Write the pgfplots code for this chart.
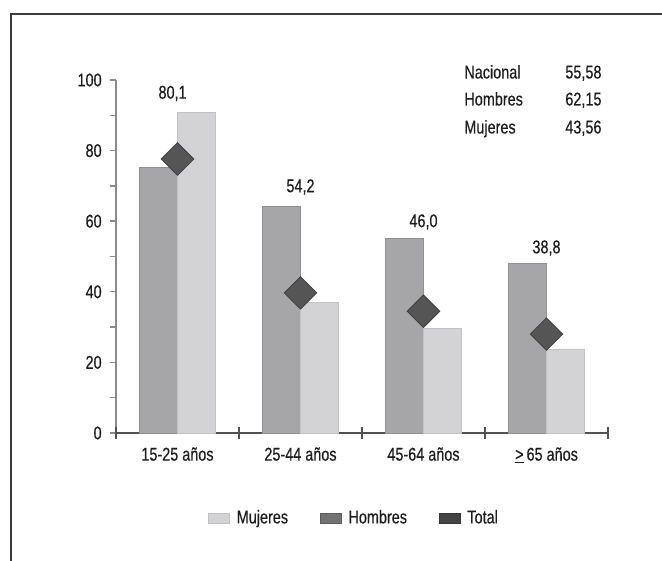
\documentclass[border=0pt]{standalone}
\usepackage{fontspec}
\setmainfont{Liberation Sans}[FakeStretch=0.78, FakeBold=0.4]
\usepackage{pgfplots}
\pgfplotsset{compat=1.18}

\definecolor{hombres}{HTML}{A6A6A8}
\definecolor{hombresedge}{HTML}{8F8F91}
\definecolor{mujeres}{HTML}{D3D3D5}
\definecolor{mujeresedge}{HTML}{C2C2C4}
\definecolor{total}{HTML}{555555}
\definecolor{totaledge}{HTML}{3E3E3E}
\definecolor{txt}{HTML}{1C1C1C}
\definecolor{frame}{HTML}{3A3A3A}
\definecolor{yaxis}{HTML}{8A8A8A}
\definecolor{xaxis}{HTML}{505050}
\definecolor{leghombres}{HTML}{737373}
\definecolor{legtotal}{HTML}{444444}

\newcommand\chartfont{\fontsize{18.5bp}{21bp}\selectfont\color{txt}}

\pgfplotsset{
  patch/.style={legend image code/.code={%
    \draw[#1] (0bp,-5bp) rectangle (21bp,5bp);
    \path (26bp,0bp);}},
}

\begin{document}
\chartfont
\begin{tikzpicture}[font=\chartfont]
\path[use as bounding box] (0,0) rectangle (662bp,561bp);
% outer frame (top and left edges)
\draw[frame, line width=1.6bp] (11bp,0bp) -- (11bp,547bp) -- (662bp,547bp);

\begin{axis}[
  at={(116bp,128bp)}, anchor=south west,
  scale only axis, width=492bp, height=353bp,
  xmin=-0.5, xmax=3.5, ymin=0, ymax=100,
  enlargelimits=false, clip=false,
  axis lines=left,
  x axis line style={draw=xaxis, line width=1.6bp, -},
  y axis line style={draw=yaxis, line width=1.6bp, -},
  ytick={0,20,...,100}, minor ytick={10,30,...,90},
  ytick align=outside,
  major tick length=6bp, minor tick length=6bp,
  major y tick style={draw=yaxis, line width=1.4bp},
  minor y tick style={draw=yaxis, line width=1.4bp},
  xtick={0,1,2,3},
  xticklabels={15-25 años, 25-44 años, 45-64 años, \underline{>}\,65 años},
  major x tick style={draw=none},
  extra x ticks={-0.5,0.5,1.5,2.5,3.5},
  extra x tick labels={},
  extra x tick style={major tick length=12bp, xtick align=center,
    major x tick style={draw=xaxis, line width=1.4bp}},
  /pgf/number format/assume math mode=true,
  tick label style={font=\chartfont},
  yticklabel style={xshift=-2bp},
  xticklabel style={yshift=-5bp},
  legend columns=3,
  legend style={draw=none, fill=none, at={(0.484,-0.241)}, anchor=center,
    font=\chartfont,
    /tikz/every even column/.append style={column sep=30bp}},
]
% Hombres (left bar of each group)
\addplot[ybar, bar width=38bp, bar shift=-19bp, fill=hombres,
  draw=hombresedge, line width=0.8bp, forget plot]
  coordinates {(0,75.1) (1,64.1) (2,55.2) (3,48.0)};
% Mujeres (right bar of each group)
\addplot[ybar, bar width=38bp, bar shift=19bp, fill=mujeres,
  draw=mujeresedge, line width=0.8bp, forget plot]
  coordinates {(0,90.9) (1,36.9) (2,29.7) (3,23.8)};
% Total (diamonds)
\addplot[only marks, mark=square*, mark size=11.5bp,
  mark options={rotate=45, fill=total, draw=totaledge, line width=0.8bp},
  forget plot]
  coordinates {(0,77.6) (1,39.7) (2,34.5) (3,28.0)};

\addlegendimage{patch={fill=mujeres, draw=mujeresedge}}
\addlegendentry{Mujeres}
\addlegendimage{patch={fill=leghombres, draw=leghombres!80!black}}
\addlegendentry{Hombres}
\addlegendimage{patch={fill=legtotal, draw=legtotal!80!black}}
\addlegendentry{Total}

% group totals
\node at (axis cs:-0.04,96.2) {80,1};
\node at (axis cs:1,69.7) {54,2};
\node at (axis cs:2,59.8) {46,0};
\node at (axis cs:3,52.4) {38,8};
\end{axis}

% national summary
\node[anchor=base west] at (458bp,482.5bp) {Nacional};
\node[anchor=base west] at (559bp,482.5bp) {55,58};
\node[anchor=base west] at (458bp,455.5bp) {Hombres};
\node[anchor=base west] at (559bp,455.5bp) {62,15};
\node[anchor=base west] at (458bp,427.5bp) {Mujeres};
\node[anchor=base west] at (559bp,427.5bp) {43,56};
\end{tikzpicture}
\end{document}
